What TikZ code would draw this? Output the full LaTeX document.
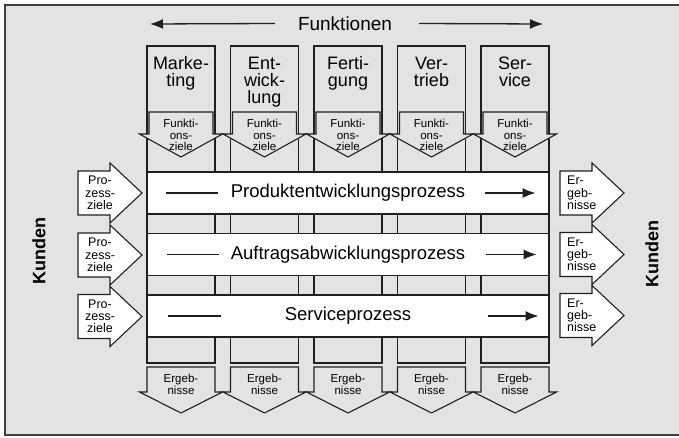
\documentclass[tikz,border=0pt]{standalone}
\usepackage{fontspec}
\setmainfont{Liberation Sans}
\usetikzlibrary{arrows.meta}

\definecolor{hinter}{gray}{0.89}
\definecolor{linie}{gray}{0.12}
\tikzstyle{spalte}=[draw=linie,fill=hinter,line width=1.1pt,minimum width=68pt,
                    minimum height=317pt,inner sep=0pt]
\tikzstyle{kopf}=[anchor=north,align=center,inner sep=0pt,
                  font=\fontsize{18}{17}\selectfont]
\tikzstyle{klein}=[anchor=north,align=center,inner sep=0pt,
                   font=\fontsize{11.5}{11.5}\selectfont]
\tikzstyle{seite}=[inner sep=0pt,font=\fontsize{12.5}{12.3}\selectfont]
\tikzstyle{prozess}=[draw=linie,fill=white,line width=1.1pt,minimum width=402pt,
                     minimum height=42pt,inner sep=0pt,font=\fontsize{18.5}{20}\selectfont]
\tikzstyle{block}=[draw=linie,line width=1.1pt]
\tikzstyle{pfeil}=[linie,line width=1.3pt,-{Latex[length=13pt,width=10pt]}]
\tikzstyle{kunde}=[rotate=90,inner sep=0pt,font=\fontsize{18}{18}\bfseries\selectfont]

% Pfeil nach unten: Stil, Mitte x, oben, Ende Schaft, Spitze, halbe Schaftbreite
\newcommand{\abpfeil}[6]{\draw[#1] (#2-#6,#3) -- (#2+#6,#3) -- (#2+#6,#4)
  -- (#2+41.5,#4) -- (#2,#5) -- (#2-41.5,#4) -- (#2-#6,#4) -- cycle;}
% Pfeil nach rechts: Stil, linkes x, Mitte y
\newcommand{\repfeil}[3]{\draw[#1] (#2,#3-22) -- (#2+32,#3-22) -- (#2+32,#3-30)
  -- (#2+64,#3) -- (#2+32,#3+30) -- (#2+32,#3+22) -- (#2,#3+22) -- cycle;}

\begin{document}
\begin{tikzpicture}[x=1pt,y=-1pt]
  \useasboundingbox (0,0) rectangle (679,438);
  % Rahmen
  \fill[hinter] (5,5) rectangle (679,435);
  \draw[linie!85,line width=1.5pt] (679,5) -- (5,5) -- (5,435) -- (679,435);

  % Funktionen
  \node[font=\fontsize{19}{19}\selectfont,inner sep=0pt] (funk) at (345,23.5) {Funktionen};
  \coordinate (fl) at (150,24);
  \coordinate (fr) at (543,24);
  \draw[pfeil] ([xshift=-23pt]funk.west) -- (fl);
  \draw[pfeil] ([xshift=27pt]funk.east) -- (fr);

  % Spalten
  \node[spalte] (sp1) at (181,204.5) {};
  \node[spalte] (sp2) at (264.5,204.5) {};
  \node[spalte] (sp3) at (348,204.5) {};
  \node[spalte] (sp4) at (431.5,204.5) {};
  \node[spalte] (sp5) at (515,204.5) {};

  \node[kopf] (k1) at (181,56.5) {Marke-\\ting};
  \node[kopf] (k2) at (264.5,56.5) {Ent-\\wick-\\lung};
  \node[kopf] (k3) at (348,56.5) {Ferti-\\gung};
  \node[kopf] (k4) at (431.5,56.5) {Ver-\\trieb};
  \node[kopf] (k5) at (515,56.5) {Ser-\\vice};

  % Funktionsziele
  \abpfeil{block,fill=hinter}{181}{112}{134}{157}{32}
  \abpfeil{block,fill=hinter}{264.5}{112}{134}{157}{32}
  \abpfeil{block,fill=hinter}{348}{112}{134}{157}{32}
  \abpfeil{block,fill=hinter}{431.5}{112}{134}{157}{32}
  \abpfeil{block,fill=hinter}{515}{112}{134}{157}{32}
  \node[klein] (fz1) at (181,119) {Funkti-\\ons-\\ziele};
  \node[klein] (fz2) at (264.5,119) {Funkti-\\ons-\\ziele};
  \node[klein] (fz3) at (348,119) {Funkti-\\ons-\\ziele};
  \node[klein] (fz4) at (431.5,119) {Funkti-\\ons-\\ziele};
  \node[klein] (fz5) at (515,119) {Funkti-\\ons-\\ziele};

  % Ergebnisse unten
  \abpfeil{block,fill=hinter}{181}{367}{392}{413}{34}
  \abpfeil{block,fill=hinter}{264.5}{367}{392}{413}{34}
  \abpfeil{block,fill=hinter}{348}{367}{392}{413}{34}
  \abpfeil{block,fill=hinter}{431.5}{367}{392}{413}{34}
  \abpfeil{block,fill=hinter}{515}{367}{392}{413}{34}
  \node[klein] (eg1) at (181,374) {Ergeb-\\nisse};
  \node[klein] (eg2) at (264.5,374) {Ergeb-\\nisse};
  \node[klein] (eg3) at (348,374) {Ergeb-\\nisse};
  \node[klein] (eg4) at (431.5,374) {Ergeb-\\nisse};
  \node[klein] (eg5) at (515,374) {Ergeb-\\nisse};

  % Prozesse
  \node[prozess] (p1) at (348,193) {Produktentwicklungsprozess};
  \node[prozess] (p2) at (348,254.5) {Auftragsabwicklungsprozess};
  \node[prozess] (p3) at (348,316) {Serviceprozess};

  \draw[linie,line width=1.1pt] ([xshift=20pt]p1.west) -- ([xshift=72pt]p1.west);
  \draw[pfeil] ([xshift=-65pt]p1.east) -- ([xshift=-14pt]p1.east);
  \draw[linie,line width=1.1pt] ([xshift=21pt]p2.west) -- ([xshift=73pt]p2.west);
  \draw[pfeil] ([xshift=-64pt]p2.east) -- ([xshift=-13pt]p2.east);
  \draw[linie,line width=1.1pt] ([xshift=22pt]p3.west) -- ([xshift=75pt]p3.west);
  \draw[pfeil] ([xshift=-62pt]p3.east) -- ([xshift=-11pt]p3.east);

  % Prozessziele links
  \repfeil{block,fill=white}{78}{193}
  \repfeil{block,fill=white}{78}{255}
  \repfeil{block,fill=white}{78}{316.5}
  \node[seite,anchor=north,align=center] (pz1) at (100,176) {Pro-\\zess-\\ziele};
  \node[seite,anchor=north,align=center] (pz2) at (100,238) {Pro-\\zess-\\ziele};
  \node[seite,anchor=north,align=center] (pz3) at (100,299.5) {Pro-\\zess-\\ziele};

  % Ergebnisse rechts
  \repfeil{block,fill=white}{560}{193}
  \repfeil{block,fill=white}{560}{254.5}
  \repfeil{block,fill=white}{560}{315.5}
  \node[seite,anchor=north west,align=left] (er1) at (567,176) {Er-\\geb-\\nisse};
  \node[seite,anchor=north west,align=left] (er2) at (567,237.5) {Er-\\geb-\\nisse};
  \node[seite,anchor=north west,align=left] (er3) at (567,298.5) {Er-\\geb-\\nisse};

  % Kunden
  \node[kunde] (ku1) at (39,251) {Kunden};
  \node[kunde] (ku2) at (652,254) {Kunden};
\end{tikzpicture}
\end{document}
